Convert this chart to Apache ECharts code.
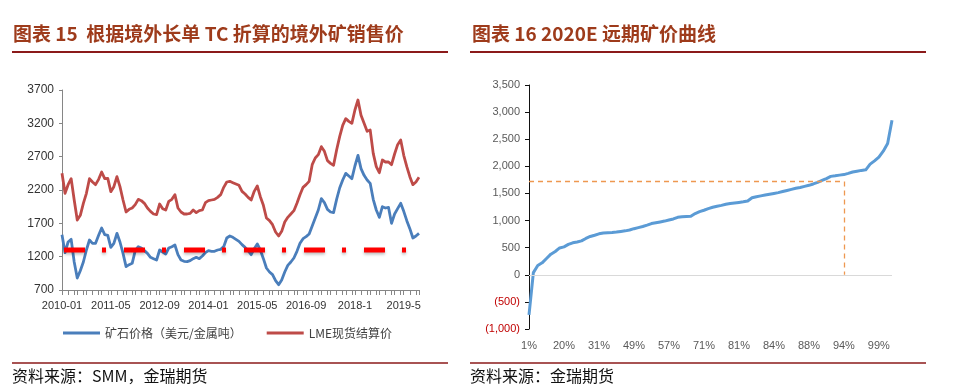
<!DOCTYPE html>
<html><head><meta charset="utf-8">
<script src="https://cdn.jsdelivr.net/npm/echarts@6/dist/echarts.min.js"></script>
<style>html,body{margin:0;padding:0;background:#fff;}#c{width:966px;height:391px;}</style>
</head><body><div id="c"></div>
<script>
// ---------- Left chart data (monthly, 2010-01 .. 2019-10) ----------
const months = [];
for (let y = 2010; y <= 2019; y++) {
  for (let m = 1; m <= 12; m++) {
    if (months.length < 118) months.push(y + '-' + (m < 10 ? '0' + m : m));
  }
}
const xTickLabels = ['2010-01','2011-05','2012-09','2014-01','2015-05','2016-09','2018-1','2019-5'];
const orePrice = [
1530,1260,1420,1460,1120,880,990,1120,1300,1450,
1400,1400,1520,1630,1530,1520,1340,1400,1550,1420,
1250,1050,1080,1100,1290,1350,1330,1290,1250,1190,
1170,1150,1300,1270,1240,1330,1350,1375,1230,1150,
1130,1125,1140,1170,1190,1170,1210,1260,1290,1280,
1280,1300,1310,1350,1480,1510,1490,1460,1430,1380,
1340,1290,1230,1320,1390,1300,1170,1030,970,930,
840,780,850,970,1070,1120,1180,1280,1400,1470,
1500,1540,1660,1780,1900,2070,2010,1910,1870,1860,
2060,2230,2350,2450,2410,2370,2560,2720,2520,2420,
2350,2300,2060,1900,1790,1950,1930,1940,1700,1840,
1920,2000,1880,1740,1620,1480,1510,1550];
const lmePrice = [
2450,2150,2280,2370,2050,1750,1820,2000,2150,2370,
2320,2280,2360,2470,2370,2375,2175,2250,2400,2250,
2050,1870,1910,1930,1980,2060,2040,2000,1930,1880,
1840,1830,1990,1920,1900,2030,2060,2130,1930,1870,
1840,1840,1850,1900,1860,1890,1900,2010,2040,2050,
2060,2090,2130,2240,2320,2330,2310,2290,2270,2180,
2140,2090,2050,2180,2260,2100,1970,1780,1740,1680,
1570,1510,1580,1720,1790,1840,1890,2000,2130,2240,
2280,2330,2580,2680,2730,2850,2780,2640,2600,2570,
2800,3000,3170,3270,3230,3200,3400,3550,3320,3200,
3080,3100,2750,2550,2460,2650,2620,2620,2580,2740,
2880,2950,2720,2550,2400,2280,2320,2390];
const tcLevel = 1300;

// ---------- Right chart data ----------
const curveCats = [
'1%','3%','5%','7%','9%','12%','15%','18%','20%','22%',
'23%','24%','25%','27%','28%','30%','31%','34%','37%','40%',
'42%','44%','46%','48%','49%','50%','51%','52%','53%','54%',
'55%','56%','57%','59%','61%','63%','65%','67%','68%','70%',
'71%','72%','73%','75%','76%','77%','78%','80%','81%','81%',
'82%','82%','83%','83%','84%','84%','84%','85%','85%','86%',
'86%','87%','87%','88%','88%','89%','90%','90%','91%','92%',
'93%','93%','94%','95%','96%','96%','97%','97%','98%','98%',
'99%','99%','100%','100%'];
const curveValues = [
-740,40,170,220,300,380,430,495,515,560,
590,605,625,670,707,730,755,770,775,780,
787,800,810,825,850,870,890,915,945,960,
975,990,1010,1030,1060,1070,1076,1080,1130,1165,
1190,1220,1245,1265,1280,1300,1315,1325,1335,1345,
1360,1420,1440,1455,1470,1485,1500,1515,1535,1555,
1575,1595,1610,1630,1650,1675,1705,1740,1775,1815,
1825,1838,1848,1870,1895,1910,1925,1935,2040,2100,
2170,2280,2420,2850];
const refPrice = 1720;
const refIndex = 72;
const yTicksRight = [-1000, 3500, 500];

const titleColor = '#9E3B1B';
const ruleColor = '#8B1A1A';
const cjk = '"Noto Sans CJK SC", "Liberation Sans", sans-serif';
const latin = '"Liberation Sans", Arial, sans-serif';

function fmtRight(v) {
  const s = Math.abs(v).toString().replace(/\B(?=(\d{3})+(?!\d))/g, ',');
  return v < 0 ? '(' + s + ')' : s;
}

const chart = echarts.init(document.getElementById('c'), null, {renderer: 'canvas'});
chart.setOption({
  animation: false,
  backgroundColor: '#fff',
  graphic: [
    {type:'text', left: 13, top: 24, style:{text:'图表 15  根据境外长单 TC 折算的境外矿销售价', fill: titleColor, font: 'bold 19px ' + cjk}},
    {type:'text', left: 472, top: 24, style:{text:'图表 16 2020E 远期矿价曲线', fill: titleColor, font: 'bold 19px ' + cjk}},
    {type:'line', shape:{x1:12, y1:52, x2:448, y2:52}, style:{stroke: ruleColor, lineWidth: 2}},
    {type:'line', shape:{x1:470, y1:52, x2:926, y2:52}, style:{stroke: ruleColor, lineWidth: 2}},
    {type:'line', shape:{x1:12, y1:363, x2:448, y2:363}, style:{stroke: ruleColor, lineWidth: 1.5}},
    {type:'line', shape:{x1:470, y1:363, x2:926, y2:363}, style:{stroke: ruleColor, lineWidth: 1.5}},
    {type:'text', left: 12, top: 368, style:{text:'资料来源：SMM，金瑞期货', fill:'#111', font: '16px ' + cjk}},
    {type:'text', left: 470, top: 368, style:{text:'资料来源：金瑞期货', fill:'#111', font: '16px ' + cjk}}
  ],
  legend: {
    data: ['矿石价格（美元/金属吨）', 'LME现货结算价'],
    left: 63, top: 327, padding: 0,
    itemWidth: 37, itemHeight: 3, itemGap: 25, icon: 'rect',
    textStyle: {fontSize: 12, color: '#404040', fontFamily: cjk}
  },
  grid: [
    {left: 62, top: 90, width: 357, height: 200},
    {left: 529, top: 85, width: 363, height: 244}
  ],
  xAxis: [
    {
      type: 'category', gridIndex: 0, data: months, boundaryGap: false,
      axisLine: {lineStyle: {color: '#868686'}},
      axisTick: {show: true, length: 5, lineStyle: {color: '#868686'},
        interval: function (i) { return i === 0 || Math.floor(i * 10 / 16) !== Math.floor((i - 1) * 10 / 16); }},
      axisLabel: {interval: 15, margin: 10, fontSize: 11, color: '#333', fontFamily: latin,
        formatter: function (v, i) { return xTickLabels[Math.round(i / 16)] || ''; }}
    },
    {
      type: 'category', gridIndex: 1, data: curveCats, boundaryGap: false,
      axisLine: {show: false}, axisTick: {show: false},
      axisLabel: {interval: 7, margin: 11, fontSize: 11, color: '#595959', fontFamily: latin}
    }
  ],
  yAxis: [
    {
      type: 'value', gridIndex: 0, min: 700, max: 3700, interval: 500,
      axisLine: {show: true, lineStyle: {color: '#868686'}},
      axisTick: {show: true, length: 3, lineStyle: {color: '#868686'}},
      splitLine: {show: false},
      axisLabel: {margin: 8, fontSize: 12, color: '#333', fontFamily: latin,
        formatter: function (v) { return String(v); }}
    },
    {
      type: 'value', gridIndex: 1, min: yTicksRight[0], max: yTicksRight[1], interval: yTicksRight[2],
      axisLine: {show: true, lineStyle: {color: '#111'}},
      axisTick: {show: true, length: 4, lineStyle: {color: '#111'}},
      splitLine: {show: false},
      axisLabel: {margin: 9, fontSize: 11, fontFamily: latin,
        formatter: fmtRight,
        color: function (v) { return Number(v) < 0 ? '#C00000' : '#595959'; }}
    }
  ],
  series: [
    {
      name: '矿石价格（美元/金属吨）', type: 'line', xAxisIndex: 0, yAxisIndex: 0,
      data: orePrice, showSymbol: false, symbol: 'none',
      lineStyle: {color: '#4A7EBB', width: 2.8, join: 'round'}, itemStyle: {color: '#4A7EBB'}
    },
    {
      name: 'LME现货结算价', type: 'line', xAxisIndex: 0, yAxisIndex: 0,
      data: lmePrice, showSymbol: false, symbol: 'none',
      lineStyle: {color: '#BE4B48', width: 2.8, join: 'round'}, itemStyle: {color: '#BE4B48'}
    },
    {
      name: 'TC', type: 'line', xAxisIndex: 0, yAxisIndex: 0,
      data: months.map(function () { return tcLevel; }), showSymbol: false, symbol: 'none',
      lineStyle: {color: '#FF0000', width: 5, type: [21, 17, 4, 18], dashOffset: 58, cap: 'butt',
        shadowColor: 'rgba(0,0,0,0.25)', shadowBlur: 3, shadowOffsetY: 2},
      z: 5
    },
    {
      name: 'curve', type: 'line', xAxisIndex: 1, yAxisIndex: 1,
      data: curveValues, showSymbol: false, symbol: 'none',
      lineStyle: {color: '#5B9BD5', width: 3, join: 'round'}, itemStyle: {color: '#5B9BD5'},
      markLine: {
        silent: true, symbol: 'none', animation: false,
        label: {show: false},
        data: [
          {yAxis: 0, lineStyle: {color: '#D9D9D9', type: 'solid', width: 1}},
          [{coord: [0, refPrice], lineStyle: {color: '#EE9850', type: [5, 4], width: 1.3}}, {coord: [refIndex, refPrice]}],
          [{coord: [refIndex, refPrice], lineStyle: {color: '#EE9850', type: [5, 4], width: 1.3}}, {coord: [refIndex, 0]}]
        ]
      }
    }
  ]
});
</script>
</body></html>
